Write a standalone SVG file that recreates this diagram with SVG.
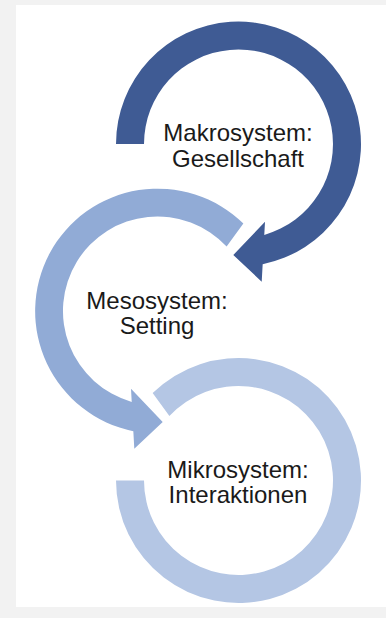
<svg xmlns="http://www.w3.org/2000/svg" width="386" height="618" viewBox="0 0 386 618">
  <style>
    .lbl { font-family: "Liberation Sans", Arial, sans-serif; font-size: 24px; fill: #1a1a1a; text-anchor: middle; }
    .makro { fill: #3f5b94; }
    .meso { fill: #91abd6; }
    .mikro { fill: #b4c6e4; }
  </style>
  <rect x="0" y="0" width="386" height="618" fill="#f2f2f2"/>
  <rect x="16" y="5" width="370" height="602" fill="#ffffff"/>
  <g id="connectors">
    <path id="arrow-makro" class="makro" d="M116,144 A122.5,122.5 0 1 1 262.67,264.2 L261.7,281.7 L233.3,255 L265,221.7 L264.27,234.9 A94.5,94.5 0 1 0 144,144 Z"/>
    <path id="arrow-meso" class="meso" d="M243.36,223.62 A122.5,122.5 0 1 0 133.33,431.2 L134.3,448.7 L162.7,422 L131,388.7 L131.73,401.9 A94.5,94.5 0 1 1 226.61,246.55 Z"/>
    <path id="arrow-mikro" class="mikro" d="M152.64,393.12 A122.5,122.5 0 1 1 116,480.5 L144,480.5 A94.5,94.5 0 1 0 169.39,416.05 Z"/>
  </g>
  <g id="node-makro">
    <text class="lbl" x="238" y="141">Makrosystem:</text>
    <text class="lbl" x="238" y="166.5">Gesellschaft</text>
  </g>
  <g id="node-meso">
    <text class="lbl" x="157" y="308.5">Mesosystem:</text>
    <text class="lbl" x="157" y="333.5">Setting</text>
  </g>
  <g id="node-mikro">
    <text class="lbl" x="238" y="477.5">Mikrosystem:</text>
    <text class="lbl" x="238" y="502.5">Interaktionen</text>
  </g>
</svg>
